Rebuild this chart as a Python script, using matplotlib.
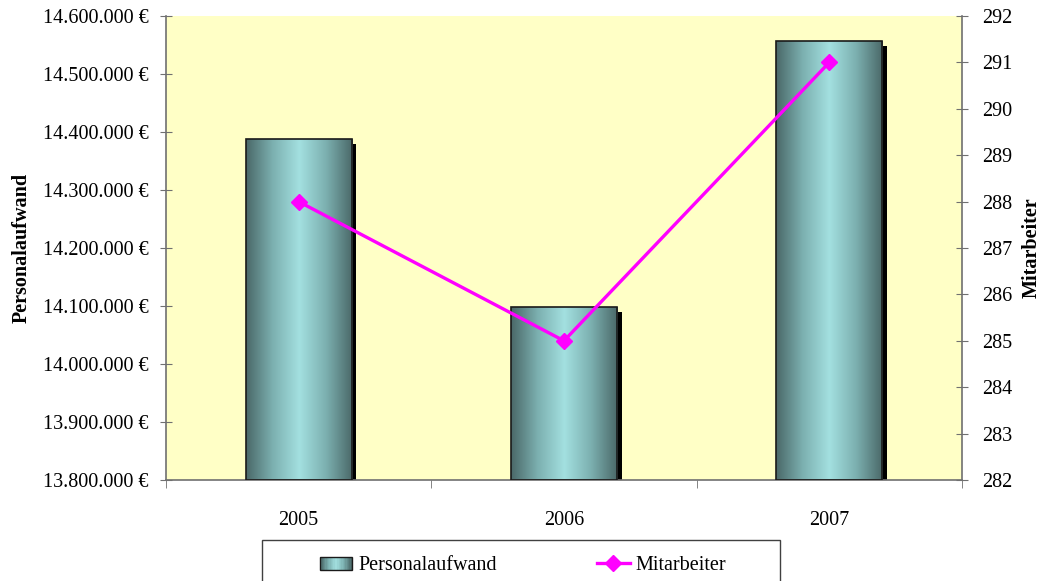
import numpy as np
import matplotlib.pyplot as plt
from matplotlib.colors import LinearSegmentedColormap
from matplotlib.patches import Rectangle
from matplotlib.legend_handler import HandlerBase
from matplotlib.ticker import FuncFormatter, MultipleLocator, FixedLocator

years = ['2005', '2006', '2007']
personalaufwand = [14388000, 14099000, 14557000]
mitarbeiter = [288, 285, 291]

plt.rcParams['font.family'] = ['Liberation Serif', 'DejaVu Serif']
plt.rcParams['font.size'] = 14.5

cyl = LinearSegmentedColormap.from_list(
    'cyl', ['#4a6868', '#7cb0b0', '#a3e0e0', '#7cb0b0', '#4a6868'])
grad = np.vstack([np.linspace(0, 1, 256)] * 2)

fig = plt.figure(figsize=(10.42, 5.81), dpi=100)
ax = fig.add_axes([0.1593, 0.1738, 0.7639, 0.7987])
ax.set_facecolor('#ffffc6')

ymin, ymax = 13800000, 14600000
w = 0.40
x = np.arange(len(years))

# shadows, then gradient bars
dx, dy = 0.018, 9000
for xi, v in zip(x, personalaufwand):
    ax.add_patch(Rectangle((xi - w / 2 + dx, ymin), w, v - ymin - dy,
                           facecolor='black', edgecolor='none', zorder=1))
bars = ax.bar(x, [v - ymin for v in personalaufwand], bottom=ymin, width=w,
              facecolor='none', edgecolor='#1a1a1a', linewidth=1.2, zorder=3)
for b in bars:
    x0, y0 = b.get_x(), b.get_y()
    im = ax.imshow(grad, cmap=cyl, aspect='auto', zorder=2,
                   extent=(x0, x0 + b.get_width(), y0, y0 + b.get_height()))
    im.set_clip_path(b)
ax.set_xlim(-0.5, 2.5)
ax.set_ylim(ymin, ymax)

ax.yaxis.set_major_locator(MultipleLocator(100000))
ax.yaxis.set_major_formatter(FuncFormatter(
    lambda v, p: '{:,.0f} €'.format(v).replace(',', '.')))
ax.set_xticks(x)
ax.set_xticklabels(years)
ax.xaxis.set_minor_locator(FixedLocator([-0.5, 0.5, 1.5, 2.5]))
ax.tick_params(axis='x', which='major', length=0, pad=22)
ax.tick_params(axis='x', which='minor', length=6, direction='out', color='#707070')
ax.tick_params(axis='y', length=9, direction='inout', color='#707070', pad=8)
for s in ['left', 'bottom']:
    ax.spines[s].set_color('#707070')
    ax.spines[s].set_linewidth(1.2)
for s in ['top', 'right']:
    ax.spines[s].set_visible(False)
ax.set_ylabel('Personalaufwand', fontweight='bold', labelpad=8)

ax2 = ax.twinx()
ax2.set_ylim(282, 292)
ax2.yaxis.set_major_locator(MultipleLocator(1))
line, = ax2.plot(x, mitarbeiter, color='#ff00ff', linewidth=2.4,
                 marker='D', markersize=8, zorder=5)
ax2.tick_params(axis='y', length=9, direction='inout', color='#707070', pad=10)
ax2.spines['right'].set_color('#707070')
ax2.spines['right'].set_linewidth(1.2)
for s in ['top', 'left', 'bottom']:
    ax2.spines[s].set_visible(False)
ax2.set_ylabel('Mitarbeiter', fontweight='bold', labelpad=7)


class GradHandler(HandlerBase):
    def create_artists(self, legend, orig, xd, yd, width, height, fontsize, trans):
        n = 24
        arts = []
        for i in range(n):
            c = cyl(i / (n - 1))
            arts.append(Rectangle((xd + width * i / n, yd), width / n + 0.3, height,
                                  facecolor=c, edgecolor='none', transform=trans))
        arts.append(Rectangle((xd, yd), width, height, facecolor='none',
                              edgecolor='#1a1a1a', linewidth=1, transform=trans))
        return arts


# legend frame drawn separately (wider side margins than the legend allows)
fig.patches.append(Rectangle((262 / 1042, -0.05), (780 - 262) / 1042,
                             0.05 + 1 - 540 / 581, transform=fig.transFigure,
                             facecolor='white', edgecolor='#404040',
                             linewidth=1.0, zorder=0))

bar_handle = Rectangle((0, 0), 1, 1)
leg = fig.legend([bar_handle, line], ['Personalaufwand', 'Mitarbeiter'],
                 handler_map={Rectangle: GradHandler()},
                 loc='center', bbox_to_anchor=(523 / 1042, 1 - 565 / 581),
                 ncol=2, frameon=False, fontsize=14.5, handlelength=1.6,
                 handleheight=0.6, columnspacing=5.0, handletextpad=0.3)

fig.savefig('out.png', dpi=100)
